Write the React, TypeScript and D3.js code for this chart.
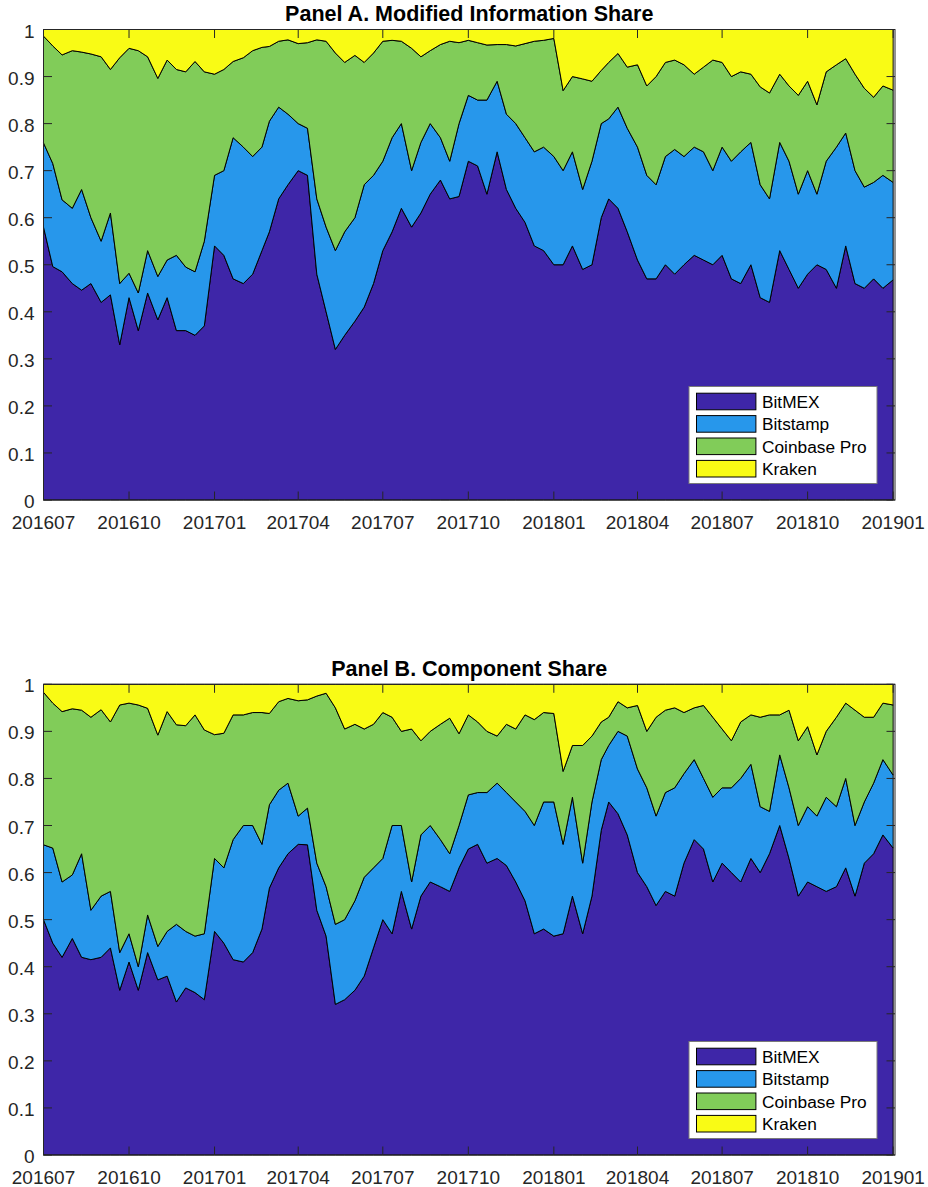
import React from "react";
import * as d3 from "d3";

// Sample dates (1st, 11th, 21st of each month)
const dates = [
  "2016-07-01","2016-07-11","2016-07-21","2016-08-01","2016-08-11","2016-08-21",
  "2016-09-01","2016-09-11","2016-09-21","2016-10-01","2016-10-11","2016-10-21",
  "2016-11-01","2016-11-11","2016-11-21","2016-12-01","2016-12-11","2016-12-21",
  "2017-01-01","2017-01-11","2017-01-21","2017-02-01","2017-02-11","2017-02-21",
  "2017-03-01","2017-03-11","2017-03-21","2017-04-01","2017-04-11","2017-04-21",
  "2017-05-01","2017-05-11","2017-05-21","2017-06-01","2017-06-11","2017-06-21",
  "2017-07-01","2017-07-11","2017-07-21","2017-08-01","2017-08-11","2017-08-21",
  "2017-09-01","2017-09-11","2017-09-21","2017-10-01","2017-10-11","2017-10-21",
  "2017-11-01","2017-11-11","2017-11-21","2017-12-01","2017-12-11","2017-12-21",
  "2018-01-01","2018-01-11","2018-01-21","2018-02-01","2018-02-11","2018-02-21",
  "2018-03-01","2018-03-11","2018-03-21","2018-04-01","2018-04-11","2018-04-21",
  "2018-05-01","2018-05-11","2018-05-21","2018-06-01","2018-06-11","2018-06-21",
  "2018-07-01","2018-07-11","2018-07-21","2018-08-01","2018-08-11","2018-08-21",
  "2018-09-01","2018-09-11","2018-09-21","2018-10-01","2018-10-11","2018-10-21",
  "2018-11-01","2018-11-11","2018-11-21","2018-12-01","2018-12-11","2018-12-21",
  "2019-01-01",
];

const seriesNames = ["BitMEX", "Bitstamp", "Coinbase Pro", "Kraken"];
const seriesColors = ["#3E26A8", "#2797EB", "#81CC59", "#F9FB15"];

// Panel A. Modified Information Share
const infoBitMEX = [
  .580,.496,.485,.460,.446,.460,.420,.436,.330,.430,
  .360,.440,.383,.430,.360,.360,.350,.370,.540,.520,
  .470,.460,.480,.530,.570,.640,.670,.700,.690,.480,
  .400,.320,.350,.380,.410,.460,.530,.570,.620,.580,
  .610,.650,.680,.640,.645,.720,.710,.650,.740,.660,
  .620,.590,.540,.530,.500,.500,.540,.490,.500,.600,
  .640,.620,.570,.510,.470,.470,.500,.480,.500,.520,
  .510,.500,.520,.470,.460,.500,.430,.420,.530,.490,
  .450,.480,.500,.490,.450,.540,.460,.450,.470,.450,
  .468,
];
const infoBitstamp = [
  .179,.219,.153,.160,.214,.140,.130,.174,.130,.052,
  .080,.090,.092,.080,.160,.135,.135,.180,.150,.180,
  .300,.290,.250,.220,.235,.195,.150,.100,.100,.160,
  .180,.210,.220,.220,.260,.230,.190,.200,.180,.120,
  .150,.150,.090,.080,.155,.140,.140,.200,.150,.160,
  .180,.180,.200,.220,.230,.200,.200,.170,.220,.200,
  .170,.215,.220,.240,.220,.200,.230,.265,.230,.230,
  .230,.200,.230,.250,.280,.260,.240,.220,.230,.230,
  .200,.220,.150,.230,.300,.240,.240,.215,.205,.240,
  .207,
];
const infoCoinbase = [
  .227,.250,.308,.335,.292,.348,.392,.305,.480,.478,
  .515,.412,.421,.425,.395,.415,.447,.360,.215,.215,
  .162,.190,.225,.212,.159,.140,.158,.170,.182,.338,
  .395,.420,.360,.345,.260,.260,.255,.207,.175,.260,
  .182,.155,.198,.255,.172,.117,.122,.117,.078,.148,
  .165,.200,.235,.227,.251,.170,.160,.235,.170,.113,
  .120,.114,.130,.175,.190,.230,.200,.190,.195,.155,
  .180,.235,.180,.180,.170,.145,.208,.225,.145,.160,
  .210,.190,.190,.190,.175,.158,.205,.210,.181,.190,
  .196,
];
const infoKraken = [
  .014,.035,.054,.045,.048,.052,.058,.085,.060,.040,
  .045,.058,.104,.065,.085,.090,.068,.090,.095,.085,
  .068,.060,.045,.038,.036,.025,.022,.030,.028,.022,
  .025,.050,.070,.055,.070,.050,.025,.023,.025,.040,
  .058,.045,.032,.025,.028,.023,.028,.033,.032,.032,
  .035,.030,.025,.023,.019,.130,.100,.105,.110,.087,
  .070,.051,.080,.075,.120,.100,.070,.065,.075,.095,
  .080,.065,.070,.100,.090,.095,.122,.135,.095,.120,
  .140,.110,.160,.090,.075,.062,.095,.125,.144,.120,
  .129,
];

// Panel B. Component Share
const compBitMEX = [
  .500,.450,.420,.460,.420,.415,.420,.440,.350,.410,
  .350,.430,.372,.380,.325,.355,.345,.330,.475,.450,
  .415,.410,.430,.480,.567,.610,.640,.660,.659,.520,
  .465,.320,.330,.350,.380,.440,.500,.470,.560,.480,
  .550,.580,.570,.560,.610,.650,.660,.620,.630,.615,
  .580,.540,.470,.480,.465,.470,.550,.470,.550,.690,
  .750,.725,.680,.600,.570,.530,.560,.550,.620,.670,
  .650,.580,.620,.600,.580,.630,.600,.640,.700,.630,
  .550,.580,.570,.560,.570,.610,.550,.620,.640,.680,
  .652,
];
const compBitstamp = [
  .159,.202,.160,.135,.220,.105,.130,.120,.080,.060,
  .050,.080,.071,.095,.165,.120,.120,.140,.155,.160,
  .255,.290,.270,.180,.177,.165,.150,.060,.078,.100,
  .105,.170,.170,.190,.210,.170,.130,.230,.140,.100,
  .130,.120,.100,.080,.090,.115,.110,.150,.160,.155,
  .170,.190,.230,.270,.285,.190,.210,.150,.200,.150,
  .120,.175,.210,.220,.210,.190,.210,.230,.190,.170,
  .150,.180,.160,.180,.220,.200,.140,.090,.150,.150,
  .150,.160,.150,.200,.170,.190,.150,.130,.150,.160,
  .155,
];
const compCoinbase = [
  .324,.308,.362,.353,.305,.410,.396,.360,.526,.490,
  .556,.439,.449,.467,.424,.437,.470,.433,.263,.286,
  .265,.235,.240,.280,.194,.188,.180,.245,.230,.355,
  .411,.460,.405,.375,.315,.305,.310,.230,.200,.325,
  .200,.200,.245,.288,.195,.170,.150,.130,.100,.145,
  .155,.205,.225,.190,.188,.155,.110,.250,.140,.080,
  .060,.063,.060,.135,.120,.210,.175,.170,.130,.110,
  .155,.170,.125,.100,.120,.105,.190,.205,.085,.165,
  .180,.170,.130,.140,.190,.160,.245,.180,.140,.120,
  .149,
];
const compKraken = [
  .017,.040,.058,.052,.055,.070,.054,.080,.044,.040,
  .044,.051,.108,.058,.086,.088,.065,.097,.107,.104,
  .065,.065,.060,.060,.062,.037,.030,.035,.033,.025,
  .019,.050,.095,.085,.095,.085,.060,.070,.100,.095,
  .120,.100,.085,.072,.105,.065,.080,.100,.110,.085,
  .095,.065,.075,.060,.062,.185,.130,.130,.110,.080,
  .070,.037,.050,.045,.100,.070,.055,.050,.060,.050,
  .045,.070,.095,.120,.080,.065,.070,.065,.065,.055,
  .120,.090,.150,.100,.070,.040,.055,.070,.070,.040,
  .044,
];

const yTickValues = [0, 0.1, 0.2, 0.3, 0.4, 0.5, 0.6, 0.7, 0.8, 0.9, 1];
const xTickLabels = [
  "201607", "201610", "201701", "201704", "201707", "201710",
  "201801", "201804", "201807", "201810", "201901",
];

const FONT = "'Liberation Sans', Arial, Helvetica, sans-serif";
const AXIS_COLOR = "#262626";
const parseDate = d3.timeParse("%Y-%m-%d");
const parseMonth = d3.timeParse("%Y%m");

const LEFT = 43.5;
const RIGHT = 895;

interface PanelProps {
  title: string;
  series: number[][];
  top: number;
  bottom: number;
}

function Panel({ title, series, top, bottom }: PanelProps) {
  const x = d3
    .scaleTime()
    .domain([new Date(2016, 6, 1), new Date(2019, 0, 3)])
    .range([LEFT, RIGHT]);
  const y = d3.scaleLinear().domain([0, 1]).range([bottom, top]);

  const rows = dates.map((ds, i) => {
    const r: any = { date: parseDate(ds) };
    seriesNames.forEach((n, k) => (r[n] = series[k][i]));
    return r;
  });
  const stacked = d3.stack<any>().keys(seriesNames)(rows);
  const area = d3
    .area<any>()
    .x((d) => x(d.data.date))
    .y0((d) => y(d[0]))
    .y1((d) => y(d[1]));

  const tickLen = 8.5;
  const xTicks = xTickLabels.map((l) => ({ label: l, pos: x(parseMonth(l) as Date) }));

  // legend
  const legW = 188;
  const legH = 97;
  const legX = RIGHT - 18 - legW;
  const legY = bottom - 16.5 - legH;
  const rowH = 22.4;

  return (
    <g>
      <text
        x={(LEFT + RIGHT) / 2}
        y={top - 8.5}
        textAnchor="middle"
        fontFamily={FONT}
        fontWeight="bold"
        fontSize={21.5}
        fill="#000"
      >
        {title}
      </text>
      {stacked.map((s, k) => (
        <path
          key={k}
          d={area(s) || ""}
          fill={seriesColors[k]}
          stroke="#000"
          strokeWidth={1}
          strokeLinejoin="round"
        />
      ))}
      {/* axes box */}
      <rect
        x={LEFT}
        y={top}
        width={RIGHT - LEFT}
        height={bottom - top}
        fill="none"
        stroke={AXIS_COLOR}
        strokeWidth={1}
      />
      {yTickValues.map((v) => (
        <g key={v}>
          <line x1={LEFT} x2={LEFT + tickLen} y1={y(v)} y2={y(v)} stroke={AXIS_COLOR} />
          <line x1={RIGHT} x2={RIGHT - tickLen} y1={y(v)} y2={y(v)} stroke={AXIS_COLOR} />
          <text
            x={LEFT - 9}
            y={y(v) + 8}
            textAnchor="end"
            fontFamily={FONT}
            fontSize={19}
            fill={AXIS_COLOR}
          >
            {String(v)}
          </text>
        </g>
      ))}
      {xTicks.map((t) => (
        <g key={t.label}>
          <line x1={t.pos} x2={t.pos} y1={bottom} y2={bottom - tickLen} stroke={AXIS_COLOR} />
          <line x1={t.pos} x2={t.pos} y1={top} y2={top + tickLen} stroke={AXIS_COLOR} />
          <text
            x={t.pos}
            y={bottom + 28.5}
            textAnchor="middle"
            fontFamily={FONT}
            fontSize={19}
            fill={AXIS_COLOR}
          >
            {t.label}
          </text>
        </g>
      ))}
      {/* legend */}
      <rect x={legX} y={legY} width={legW} height={legH} fill="#fff" stroke="#7a7a7a" strokeWidth={1} />
      {seriesNames.map((n, k) => {
        const cy = legY + 15 + k * rowH;
        return (
          <g key={n}>
            <rect
              x={legX + 7.5}
              y={cy - 8.3}
              width={59.4}
              height={16.6}
              fill={seriesColors[k]}
              stroke="#000"
              strokeWidth={1}
            />
            <text x={legX + 73} y={cy + 6.2} fontFamily={FONT} fontSize={17.3} fill="#000">
              {n}
            </text>
          </g>
        );
      })}
    </g>
  );
}

export default function App() {
  return (
    <svg
      width={928}
      height={1187}
      style={{ position: "absolute", left: 0, top: 0, background: "#fff" }}
    >
      <rect width={928} height={1187} fill="#fff" />
      <Panel
        title="Panel A. Modified Information Share"
        series={[infoBitMEX, infoBitstamp, infoCoinbase, infoKraken]}
        top={29.5}
        bottom={500}
      />
      <Panel
        title="Panel B. Component Share"
        series={[compBitMEX, compBitstamp, compCoinbase, compKraken]}
        top={684.3}
        bottom={1155}
      />
    </svg>
  );
}
